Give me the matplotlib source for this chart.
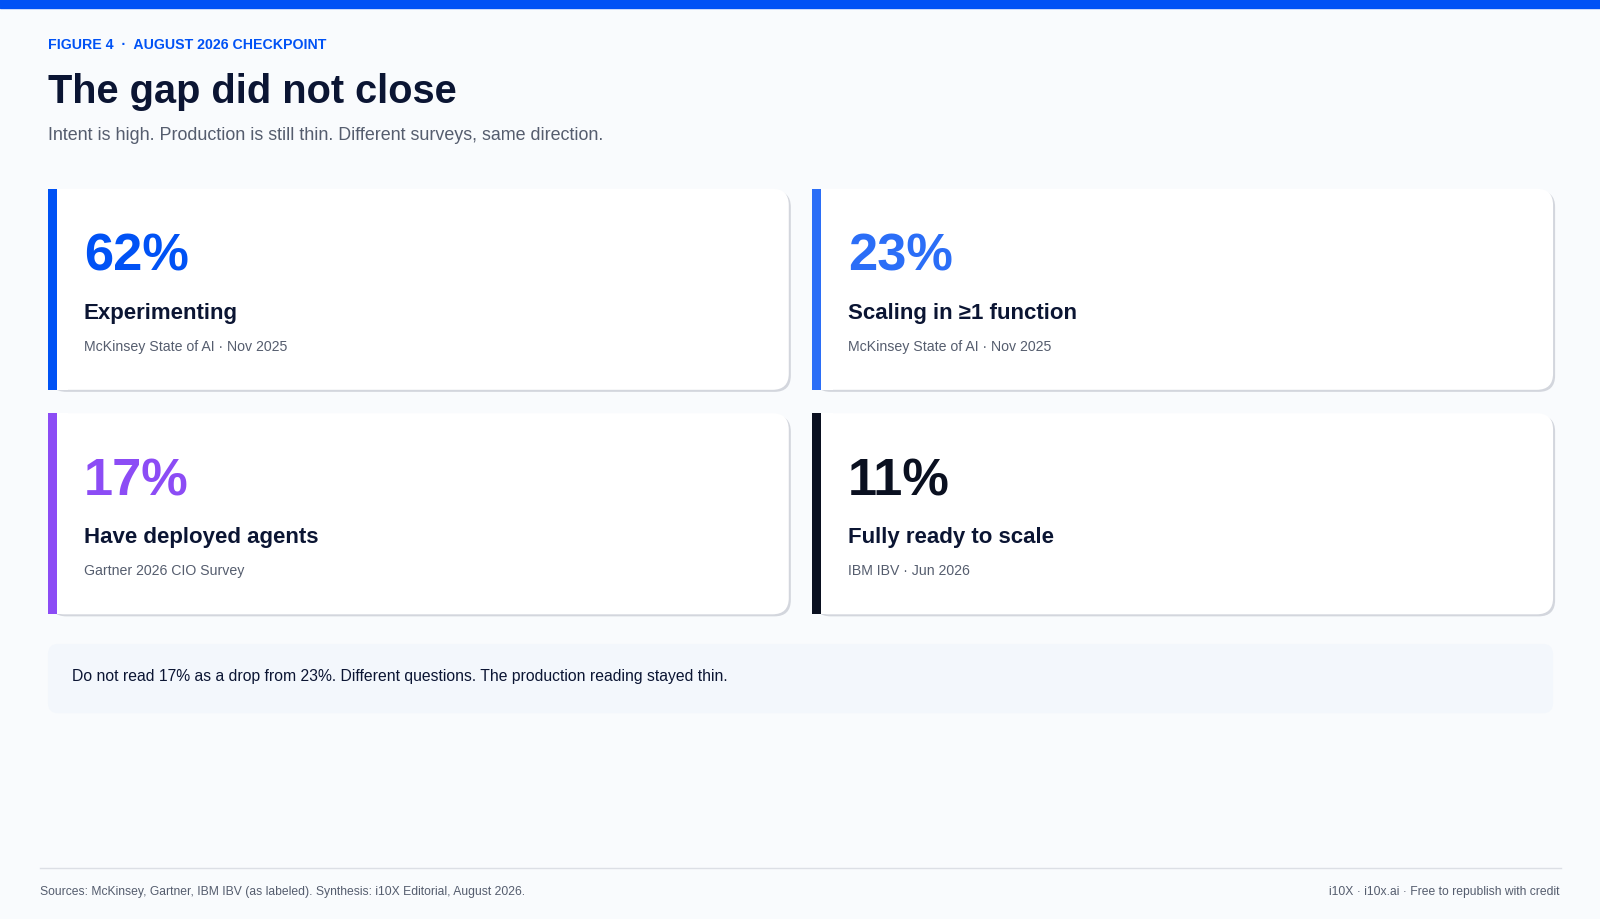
import matplotlib
matplotlib.use("Agg")
import matplotlib.pyplot as plt
from matplotlib.patches import FancyBboxPatch, Rectangle

plt.rcParams['font.family'] = ['Liberation Sans', 'DejaVu Sans']

values = ["62%", "23%", "17%", "11%"]
labels = ["Experimenting", "Scaling in ≥1 function", "Have deployed agents", "Fully ready to scale"]
sources = ["McKinsey State of AI · Nov 2025", "McKinsey State of AI · Nov 2025",
           "Gartner 2026 CIO Survey", "IBM IBV · Jun 2026"]
colors = ["#0052f5", "#2b6ef7", "#8c4cf5", "#0a1020"]

W, H = 1568, 901.6
fig = plt.figure(figsize=(16, 9.2), dpi=100)
fig.patch.set_facecolor("#f9fbfd")
ax = fig.add_axes([0, 0, 1, 1])
ax.set_xlim(0, W); ax.set_ylim(H, 0); ax.axis("off")

ax.add_patch(Rectangle((0, 0), W, 9, color="#0052f5"))
ax.text(47, 44, "FIGURE 4  ·  AUGUST 2026 CHECKPOINT", color="#0052f5", fontsize=10.2,
        fontweight="bold", va="center")
ax.text(47, 90, "The gap did not close", color="#0b1533", fontsize=28.6, fontweight="bold", va="center")
ax.text(47, 133, "Intent is high. Production is still thin. Different surveys, same direction.",
        color="#555d6e", fontsize=12.9, va="center")

xs = [47, 796]; ys = [186, 406]
cw, ch = 726, 197
for i in range(4):
    x = xs[i % 2]; y = ys[i // 2]
    ax.add_patch(FancyBboxPatch((x + 2, y + 2), cw, ch, boxstyle="round,pad=0,rounding_size=16",
                                fc="#d3d6dd", ec="none"))
    ax.add_patch(FancyBboxPatch((x, y), cw, ch, boxstyle="round,pad=0,rounding_size=16",
                                fc="white", ec="none"))
    ax.add_patch(Rectangle((x, y), 20, ch, fc="white", ec="none"))
    ax.add_patch(Rectangle((x, y), 9, ch, fc=colors[i], ec="none"))
    ax.text(x + 35, y + 66, values[i], color=colors[i], fontsize=37.7, fontweight="bold", va="center")
    ax.text(x + 35, y + 121, labels[i], color="#0b1533", fontsize=16, fontweight="bold", va="center")
    ax.text(x + 35, y + 154, sources[i], color="#555d6e", fontsize=10.15, va="center")

ax.add_patch(FancyBboxPatch((47, 632), 1475, 68, boxstyle="round,pad=0,rounding_size=10",
                            fc="#f3f7fc", ec="none"))
ax.text(71, 663, "Do not read 17% as a drop from 23%. Different questions. The production reading stayed thin.",
        color="#0b1533", fontsize=11.35, va="center")

ax.plot([39, 1530], [852, 852], color="#dcdfe5", lw=1)
ax.text(39, 874, "Sources: McKinsey, Gartner, IBM IBV (as labeled). Synthesis: i10X Editorial, August 2026.",
        color="#555d6e", fontsize=8.7, va="center")
ax.text(1528, 874, "i10X · i10x.ai · Free to republish with credit", color="#555d6e",
        fontsize=8.7, va="center", ha="right")

fig.savefig("out.png", dpi=100, facecolor=fig.get_facecolor())
